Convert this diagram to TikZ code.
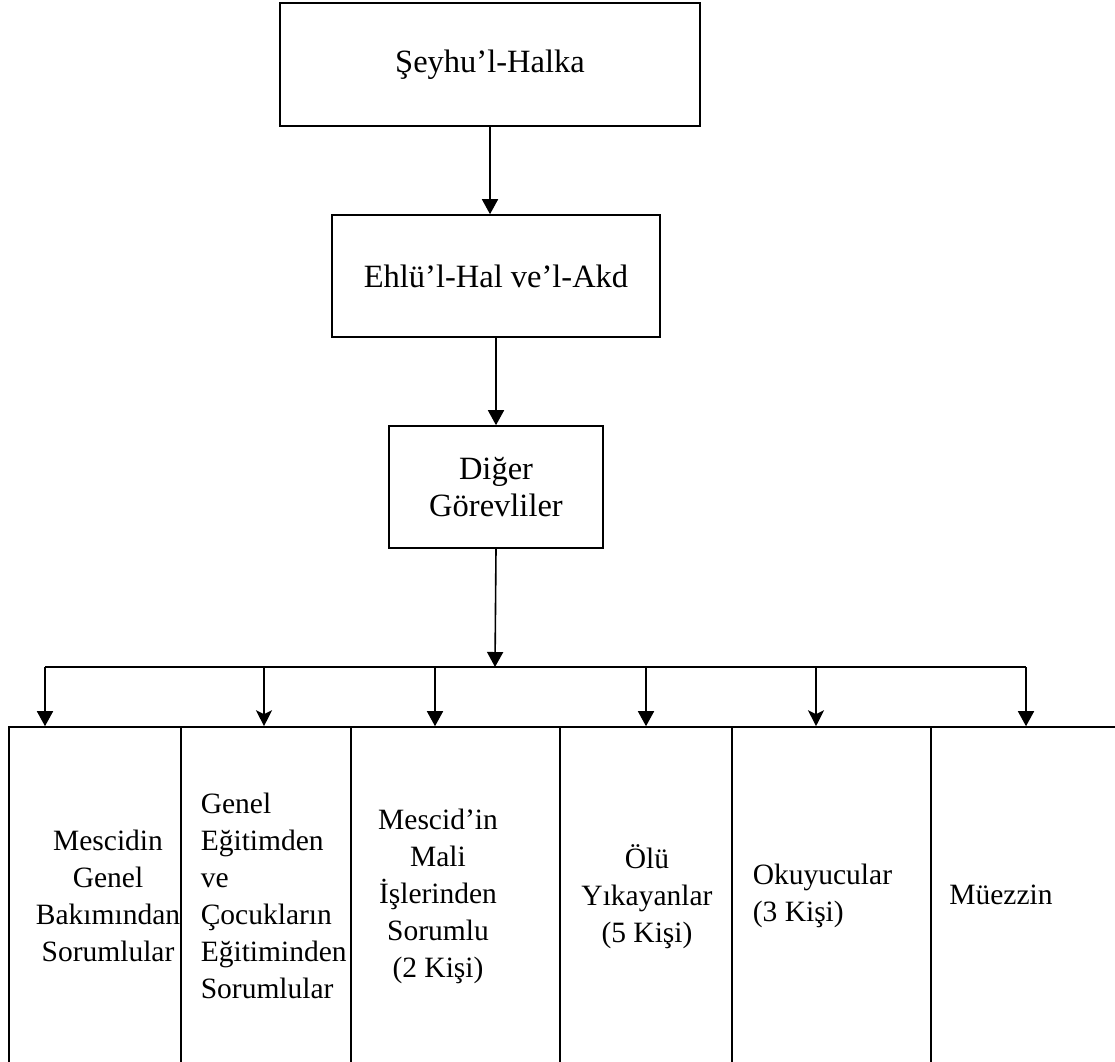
\documentclass[tikz,border=0pt]{standalone}
\usepackage{fontspec}
\setmainfont{Liberation Serif}
\usetikzlibrary{%
  arrows.meta,
  positioning
}
\tikzstyle{topblock}=[draw, rectangle, line width=1.6pt, inner sep=0pt, align=center, font=\fontsize{32.5}{37}\selectfont]
\tikzstyle{cell}=[draw, rectangle, line width=1.6pt, inner sep=0pt, minimum height=363pt]
\tikzstyle{celltext}=[inner sep=0pt]
\tikzstyle{input}=[coordinate]
\tikzstyle{notched}=[-{Stealth[width=16pt,length=16pt,inset=4pt]}]

\begin{document}
\begin{tikzpicture}[x=1pt, y=-1pt, line width=1.6pt, >={Triangle[width=16pt,length=15pt]},
    font=\fontsize{29.5}{37}\selectfont]
        \clip (0,0) rectangle (1115,1061);
        % chain of command
        \node[topblock, minimum width=420pt, minimum height=123pt] (halka) at (490,64.5) {Şeyhu’l-Halka};
        \node[topblock, minimum width=328pt, minimum height=122pt] (ehl) at (496,276) {Ehlü’l-Hal ve’l-Akd};
        \node[topblock, minimum width=214pt, minimum height=122pt] (diger) at (496,487) {Diğer\\Görevliler};
        \draw[->](halka.south) -- (halka.south |- ehl.north);
        \draw[->](ehl.south) -- (diger.north);
        % distribution line
        \node[input] (bus) at (495,667) {};
        \node[input] (b1) at (45,667) {};
        \node[input] (b2) at (264,667) {};
        \node[input] (b3) at (435,667) {};
        \node[input] (b4) at (646,667) {};
        \node[input] (b5) at (816,667) {};
        \node[input] (b6) at (1026,667) {};
        \draw[->](diger.south) -- (bus);
        \draw(b1) -- (b6);
        % duties
        \node[cell, minimum width=172pt] (c1) at (95,908.5) {};
        \node[cell, minimum width=170pt] (c2) at (266,908.5) {};
        \node[cell, minimum width=209pt] (c3) at (455.5,908.5) {};
        \node[cell, minimum width=172pt] (c4) at (646,908.5) {};
        \node[cell, minimum width=199pt] (c5) at (831.5,908.5) {};
        \node[cell, minimum width=199pt] (c6) at (1030.5,908.5) {};
        \draw[->](b1) -- (b1 |- c1.north);
        \draw[notched](b2) -- (b2 |- c2.north);
        \draw[->](b3) -- (b3 |- c3.north);
        \draw[->](b4) -- (b4 |- c4.north);
        \draw[notched](b5) -- (b5 |- c5.north);
        \draw[->](b6) -- (b6 |- c6.north);
        \node[celltext, align=center] (t1) at (108,896) {Mescidin\\Genel\\Bakımından\\Sorumlular};
        \node[celltext, align=left, anchor=west] (t2) at (200,896) {Genel\\Eğitimden\\ve\\Çocukların\\Eğitiminden\\Sorumlular};
        \node[celltext, align=center] (t3) at (438,896) {Mescid’in\\Mali\\İşlerinden\\Sorumlu\\(2 Kişi)};
        \node[celltext, align=center] (t4) at (647,897) {Ölü\\Yıkayanlar\\(5 Kişi)};
        \node[celltext, align=left, anchor=west] (t5) at (752,896) {Okuyucular\\(3 Kişi)};
        \node[celltext] (t6) at (1001,895) {Müezzin};
      \end{tikzpicture}
\end{document}
